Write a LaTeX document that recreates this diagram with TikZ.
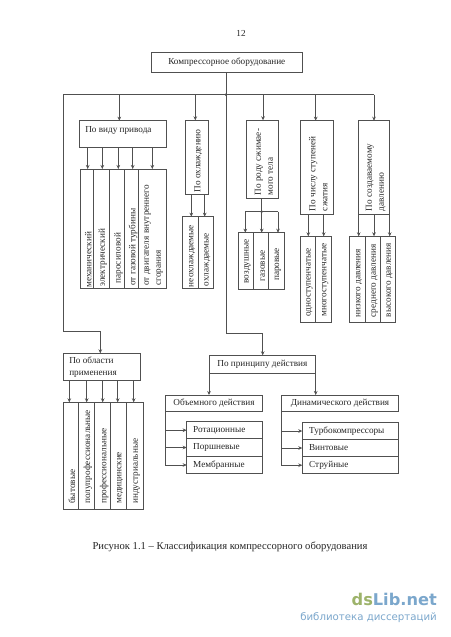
\documentclass[tikz,border=0pt]{standalone}
\usepackage{fontspec}
\setmainfont{Liberation Serif}
\newfontfamily\wmfont{DejaVu Sans}
\usetikzlibrary{arrows.meta}
\definecolor{ln}{HTML}{505050}
\definecolor{wmg}{HTML}{9DB36A}
\definecolor{wmb}{HTML}{7BA7CC}
\tikzset{
  boxn/.style={draw=ln,line width=0.8pt,inner sep=0pt,outer sep=0pt,text=black!85,font=\fontsize{9.2}{12}\selectfont},
  conn/.style={draw=ln,line width=0.8pt},
  arr/.style={conn,-{Stealth[length=4pt,width=3.6pt]}},
  dotn/.style={circle,fill=black,inner sep=0pt,minimum size=2.6pt},
  plain/.style={inner sep=0pt,text=black!85,font=\fontsize{9.2}{12}\selectfont}
}
% name x1 y1 x2 y2 text : centred
\newcommand{\hbx}[6]{%
  \pgfmathsetmacro\bw{#4-#2}\pgfmathsetmacro\bh{#5-#3}%
  \pgfmathsetmacro\cx{(#2+#4)/2}\pgfmathsetmacro\cy{(#3+#5)/2}%
  \node[boxn,minimum width=\bw pt,minimum height=\bh pt] (#1) at (\cx,\cy) {#6};}
% name x1 y1 x2 y2 inset text : left aligned
\newcommand{\lbx}[7]{%
  \pgfmathsetmacro\bw{#4-#2}\pgfmathsetmacro\bh{#5-#3}%
  \pgfmathsetmacro\cx{(#2+#4)/2}\pgfmathsetmacro\cy{(#3+#5)/2}%
  \node[boxn,minimum width=\bw pt,minimum height=\bh pt] (#1) at (\cx,\cy)
    {\hspace*{#6pt}\parbox{\dimexpr\bw pt-#6pt-1pt\relax}{\raggedright #7}};}
% name x1 y1 x2 y2 inset text : rotated, reading upward from the bottom
\newcommand{\vbx}[7]{%
  \pgfmathsetmacro\bw{#4-#2}\pgfmathsetmacro\bh{#5-#3}%
  \pgfmathsetmacro\cx{(#2+#4)/2}\pgfmathsetmacro\cy{(#3+#5)/2}%
  \node[boxn,minimum width=\bw pt,minimum height=\bh pt] (#1) at (\cx,\cy)
    {\hspace*{3pt}\rotatebox{90}{\hspace*{#6pt}\parbox{\dimexpr\bh pt-#6pt-1pt\relax}{\raggedright #7}}};}
\begin{document}
\begin{tikzpicture}[x=1pt,y=-1pt]
\useasboundingbox (0,0) rectangle (450,637);
\fill[white] (0,0) rectangle (450,637);
\node[plain] (pg) at (241,33) {12};
\hbx{top}{151.3}{52.7}{302.3}{72.3}{Компрессорное оборудование}
\lbx{vid}{79.3}{120.7}{166.7}{147}{5.5}{\vspace{-5pt}По виду привода\vspace{0pt}}
\vbx{v1}{80}{169}{93.3}{288}{0}{механический}
\vbx{v2}{93.3}{169}{109.3}{288}{1}{электрический}
\vbx{v3}{109.3}{169}{124.7}{288}{4}{паросиловой}
\vbx{v4}{124.7}{169}{138.3}{288}{2}{от газовой турбины}
\vbx{v5}{138.3}{169}{166}{288}{2}{от двигателя внутреннего\\сгорания}
\vbx{ohl}{185.3}{120.3}{208.3}{194.3}{1.5}{По охлаждению}
\vbx{o1}{182.7}{216.7}{198.3}{288}{0.5}{неохлаждаемые}
\vbx{o2}{198.3}{216.7}{213.3}{288}{1.5}{охлаждаемые}
\vbx{rod}{246.3}{120.3}{278.7}{198.3}{2.5}{По роду сжимае-\\мого тела}
\vbx{r1}{238.3}{232.7}{253.7}{289.3}{5.5}{воздушные}
\vbx{r2}{253.7}{232.7}{268.7}{289.3}{7.5}{газовые}
\vbx{r3}{268.7}{232.7}{284.3}{289.3}{8}{паровые}
\vbx{chi}{300.3}{120.7}{333.3}{214}{2.5}{По числу ступеней\\сжатия}
\vbx{c1}{300.3}{236.3}{315.7}{322}{5}{одноступенчатые}
\vbx{c2}{315.7}{236.3}{331.7}{322}{5}{многоступенчатые}
\vbx{sz}{358.7}{120.7}{389.7}{214}{2.5}{По создаваемому\\давлению}
\vbx{s1}{349.3}{236.3}{365.7}{322.7}{5}{низкого давления}
\vbx{s2}{365.7}{236.3}{380.7}{322.7}{5}{среднего давления}
\vbx{s3}{380.7}{236.3}{395.7}{322.7}{5}{высокого давления}
\lbx{obl}{63.3}{353.3}{140}{380.3}{5.5}{По области\\применения}
\vbx{b1}{63}{402.3}{78}{509.7}{5.5}{бытовые}
\vbx{b2}{78}{402.3}{94.7}{509.7}{5.5}{полупрофессиональные}
\vbx{b3}{94.7}{402.3}{110.7}{509.7}{5.5}{профессиональные}
\vbx{b4}{110.7}{402.3}{126.7}{509.7}{5.5}{медицинские}
\vbx{b5}{126.7}{402.3}{143.7}{509.7}{5.5}{индустриальные}
\hbx{pri}{209}{355.3}{315.7}{373.3}{По принципу действия}
\hbx{ob}{165.3}{395}{262.7}{411.3}{Объемного действия}
\hbx{di}{281.3}{395}{398.7}{411.3}{Динамического действия}
\lbx{l1}{186.7}{421.7}{262.7}{438.7}{6}{Ротационные}
\lbx{l2}{186.7}{438.7}{262.7}{456.3}{6}{Поршневые}
\lbx{l3}{186.7}{456.3}{262.7}{473.7}{6}{Мембранные}
\lbx{d1}{302.3}{422.7}{398.7}{439.3}{6.3}{Турбокомпрессоры}
\lbx{d2}{302.3}{439.3}{398.7}{456.7}{6.3}{Винтовые}
\lbx{d3}{302.3}{456.7}{398.7}{473.7}{6.3}{Струйные}
\node[plain,font=\fontsize{10.6}{12}\selectfont] (cap) at (230,547) {Рисунок 1.1 – Классификация компрессорного оборудования};
\node[inner sep=0pt,anchor=base east] (wm1) at (437,605) {\wmfont\fontsize{16.2}{20}\selectfont\bfseries\textcolor{wmg}{ds}\textcolor{wmb}{Lib.net}};
\node[inner sep=0pt,anchor=base east,text=wmb] (wm2) at (437,620) {\wmfont\fontsize{10.2}{12}\selectfont библиотека диссертаций};
% junctions and free ends
\coordinate (hub) at (226,94.7);
\coordinate (hl) at (63.3,94.7);
\coordinate (hr) at (374,94.7);
\coordinate (lb) at (63.3,331.3);
\coordinate (lb2) at (100.3,331.3);
\coordinate (tb) at (226,333.3);
\coordinate (tb2) at (262.7,333.3);
\node[dotn] (hd) at (hub) {};
\draw[conn] (hub |- top.south) -- (hub);
\draw[conn] (hl) -- (hr);
\draw[conn] (hub) -- (tb) -- (tb2);
\draw[arr] (tb2) -- (tb2 |- pri.north);
\draw[conn] (hl) -- (lb) -- (lb2);
\draw[arr] (lb2) -- (lb2 |- obl.north);
\draw[arr] (119.3,0 |- hl) -- (119.3,0 |- vid.north);
\draw[arr] (195.3,0 |- hl) -- (195.3,0 |- ohl.north);
\draw[arr] (263,0 |- hl) -- (263,0 |- rod.north);
\draw[arr] (315.7,0 |- hl) -- (315.7,0 |- chi.north);
\draw[arr] (hr) -- (hr |- sz.north);
\foreach \px/\tg in {87.7/v1,102.3/v2,118.3/v3,132.7/v4,152.3/v5}
  \draw[arr] (\px,0 |- vid.south) -- (\px,0 |- \tg.north);
\foreach \px/\tg in {191.3/o1,204.7/o2}
  \draw[arr] (\px,0 |- ohl.south) -- (\px,0 |- \tg.north);
\coordinate (rj) at (261.7,211.7);
\node[dotn] (rd) at (rj) {};
\draw[conn] (rj |- rod.south) -- (rj);
\draw[conn] (245.3,0 |- rj) -- (278,0 |- rj);
\foreach \px/\tg in {245.3/r1,261.7/r2,278/r3}
  \draw[arr] (\px,0 |- rj) -- (\px,0 |- \tg.north);
\foreach \px/\tg in {308.3/c1,323.7/c2}
  \draw[arr] (\px,0 |- chi.south) -- (\px,0 |- \tg.north);
\foreach \px/\tg in {358.7/s1,374/s2,389.7/s3}
  \draw[arr] (\px,0 |- sz.south) -- (\px,0 |- \tg.north);
\foreach \px/\tg in {69.3/b1,86.7/b2,102.7/b3,117.7/b4,133.7/b5}
  \draw[arr] (\px,0 |- obl.south) -- (\px,0 |- \tg.north);
\draw[arr] (pri.south west) -- (pri.south west |- ob.north);
\draw[arr] (pri.south east) -- (pri.south east |- di.north);
\draw[conn] (ob.south west) -- (ob.south west |- l3.west);
\foreach \tg in {l1,l2,l3}
  \draw[arr] (ob.south west |- \tg.west) -- (\tg.west);
\draw[conn] (di.south west) -- (di.south west |- d3.west);
\foreach \tg in {d1,d2,d3}
  \draw[arr] (di.south west |- \tg.west) -- (\tg.west);
\end{tikzpicture}
\end{document}
